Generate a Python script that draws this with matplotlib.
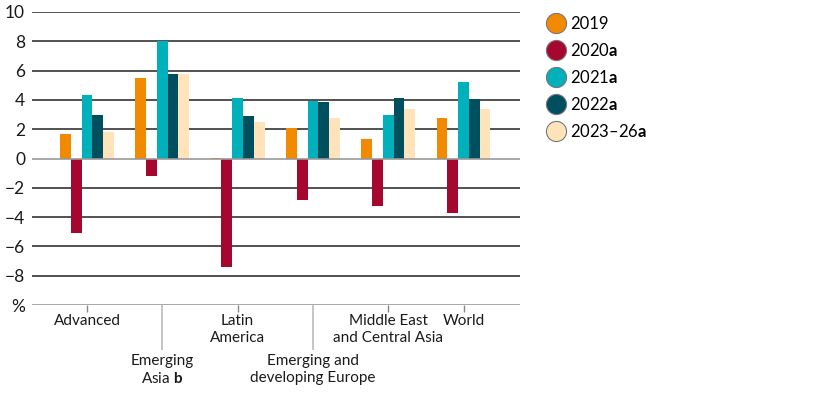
import matplotlib
matplotlib.use('Agg')
import matplotlib.pyplot as plt
from matplotlib.lines import Line2D
import numpy as np

plt.rcParams['font.family'] = ['Lato', 'DejaVu Sans']
plt.rcParams['mathtext.fontset'] = 'custom'
plt.rcParams['mathtext.rm'] = 'Lato'
plt.rcParams['mathtext.bf'] = 'Lato:bold'

regions = ['Advanced', 'Emerging\nAsia $\\mathbf{b}$', 'Latin\nAmerica',
           'Emerging and\ndeveloping Europe', 'Middle East\nand Central Asia', 'World']
series = ['2019', '2020$\\mathbf{a}$', '2021$\\mathbf{a}$', '2022$\\mathbf{a}$', '2023\u201326$\\mathbf{a}$']
colors = ['#F18A00', '#A6072F', '#00B0BA', '#004F5E', '#FFE3BA']

v2019 = [1.7, 5.5, 0.05, 2.05, 1.35, 2.75]
v2020 = [-5.1, -1.2, -7.4, -2.85, -3.25, -3.75]
v2021 = [4.35, 8.0, 4.1, 3.95, 2.95, 5.25]
v2022 = [3.0, 5.8, 2.9, 3.85, 4.15, 4.05]
v2023 = [1.8, 5.8, 2.5, 2.75, 3.35, 3.35]
values = [v2019, v2020, v2021, v2022, v2023]

yticks = [-10, -8, -6, -4, -2, 0, 2, 4, 6, 8, 10]
ytick_labels = ['%', '\u22128', '\u22126', '\u22124', '\u22122', '0', '2', '4', '6', '8', '10']

fig = plt.figure(figsize=(8.16, 4.07), dpi=100)
ax = fig.add_axes([32 / 816, 1 - 305 / 407, 488 / 816, 293 / 407])

x = np.arange(len(regions))
width = 0.143
for i, (vals, col) in enumerate(zip(values, colors)):
    ax.bar(x + (i - 2) * width, vals, width, color=col, zorder=3)

# gridlines
for yv in yticks:
    col = '#999999' if yv in (0, -10) else '#333333'
    ax.axhline(yv, color=col, lw=1.2, zorder=2 if yv != 0 else 4)

ax.set_xlim(-0.73, 5.75)
ax.set_ylim(-10, 10)
ax.set_yticks(yticks)
ax.set_yticklabels(ytick_labels)
ax.tick_params(axis='y', length=0, pad=5, labelsize=12.5, colors='#1a1a1a')

for s in ax.spines.values():
    s.set_visible(False)

# alternating category labels: short ticks on top row, long ticks for lower row
top = [0, 2, 4, 5]
low = [1, 3]
ax.set_xticks(top)
ax.set_xticklabels([regions[i] for i in top])
ax.set_xticks(low, minor=True)
ax.set_xticklabels([regions[i] for i in low], minor=True)
ax.tick_params(axis='x', which='major', length=5, width=1, color='#888888',
               pad=1.5, labelsize=11, labelcolor='#1a1a1a')
ax.tick_params(axis='x', which='minor', length=32.5, width=1.2, color='#bbbbbb',
               pad=3, labelsize=11, labelcolor='#1a1a1a')
for lab in ax.get_xticklabels() + ax.get_xticklabels(minor=True):
    lab.set_linespacing(1.25)

handles = [Line2D([0], [0], marker='o', linestyle='none', markersize=14.5,
                  markerfacecolor=c, markeredgecolor='#777777', markeredgewidth=0.8)
           for c in colors]
fig.legend(handles, series, loc='upper left', bbox_to_anchor=(548 / 816, 1 - 16 / 407),
           frameon=False, fontsize=12, handlelength=1.0, handletextpad=0.35,
           labelspacing=0.6, borderpad=0, borderaxespad=0)

fig.savefig('out.png', dpi=100)
